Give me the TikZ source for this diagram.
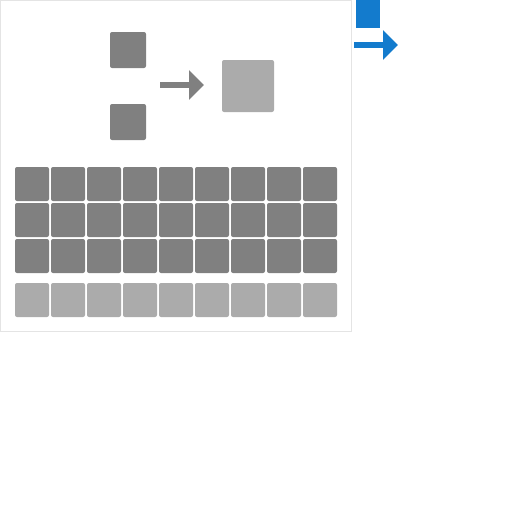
\documentclass[tikz,border=0pt]{standalone}
\usepackage{xcolor}
\usepackage{tikz}
\usetikzlibrary{arrows.meta, positioning}
\definecolor{PoolDark}{RGB}{128, 128, 128}
\definecolor{PoolLight}{RGB}{171, 171, 171}
\definecolor{PoolBlue}{RGB}{19, 123, 205}
\definecolor{PoolBorder}{RGB}{228, 228, 228}
\tikzset{
  cell/.style={rectangle, fill=PoolDark, rounded corners=2pt, inner sep=0pt, minimum size=34pt},
  lightcell/.style={cell, fill=PoolLight},
  flow/.style={line width=6pt, -{Triangle[length=15pt, width=29pt]}}
}

\begin{document}
\begin{tikzpicture}[x=1pt,y=-1pt]
  \path[use as bounding box] (0,0) rectangle (512,512);
  \draw[PoolBorder, line width=1pt] (0.5,0.5) rectangle (351,331);
  % pooling window
  \node[cell, minimum size=36pt] (in-top) at (128,50) {};
  \node[cell, minimum size=36pt] (in-bot) at (128,122) {};
  \node[lightcell, minimum size=52pt] (out) at (248,86) {};
  \coordinate (flow-a) at (160,85);
  \coordinate (flow-b) at (204,85);
  \draw[flow, PoolDark] (flow-a) -- (flow-b);
  % input grid
  \foreach \r in {0,1,2}{
    \foreach \c in {0,...,8}{
      \node[cell] (g-\r-\c) at (32+36*\c, 184+36*\r) {};
    }
  }
  % pooled row
  \foreach \c in {0,...,8}{
    \node[lightcell] (p-\c) at (32+36*\c, 300) {};
  }
  % legend
  \node[rectangle, fill=PoolBlue, inner sep=0pt, minimum width=24pt, minimum height=28pt] (key) at (368,14) {};
  \coordinate (key-a) at (354,45);
  \coordinate (key-b) at (398,45);
  \draw[flow, PoolBlue] (key-a) -- (key-b);
\end{tikzpicture}
\end{document}
